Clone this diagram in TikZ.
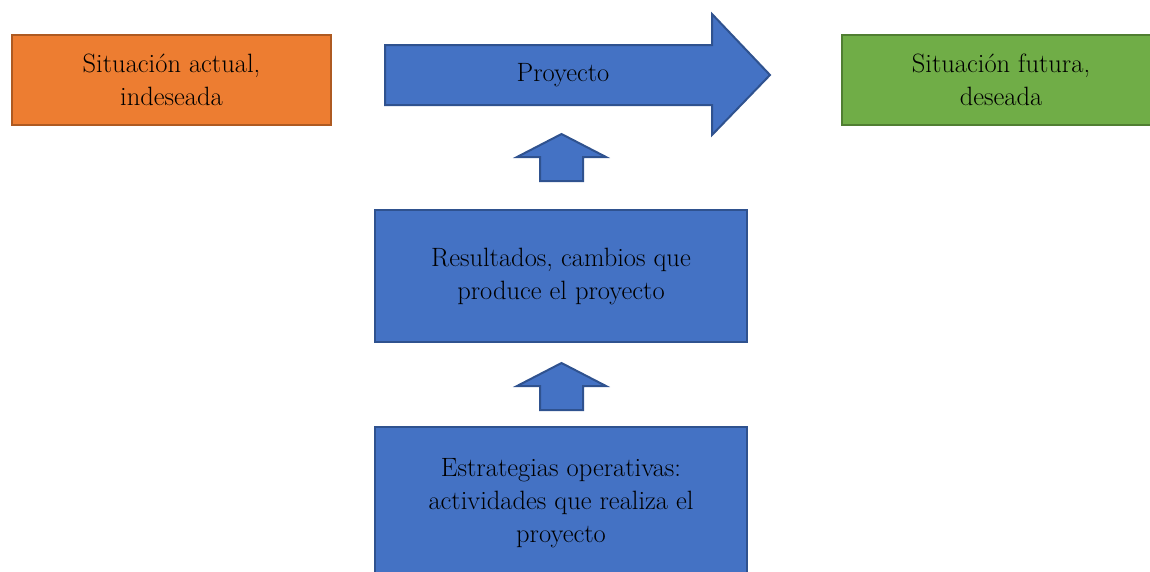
\documentclass[tikz,border=0pt]{standalone}
\usepackage{fontspec}
\definecolor{naranja}{HTML}{ED7D31}
\definecolor{naranjaborde}{HTML}{AE5A21}
\definecolor{azul}{HTML}{4472C4}
\definecolor{azulborde}{HTML}{2F528F}
\definecolor{verde}{HTML}{70AD47}
\definecolor{verdeborde}{HTML}{507E32}
\tikzset{caja/.style={rectangle,line width=2pt,align=center,inner sep=0pt,
  font=\fontsize{26.5}{33}\selectfont},
  flecha/.style={fill=azul,draw=azulborde,line width=2pt,line join=miter}}
\begin{document}
\begin{tikzpicture}[x=1pt,y=-1pt]
\useasboundingbox (0,0) rectangle (1150,571);
\clip (0,0) rectangle (1150,571);
\node[caja,fill=naranja,draw=naranjaborde,minimum width=319pt,minimum height=90pt] (actual) at (171.5,80) {Situación actual,\\indeseada};
\node[caja,fill=verde,draw=verdeborde,minimum width=318pt,minimum height=90pt] (futura) at (1001,80) {Situación futura,\\deseada};
\draw[flecha] (385,45) -- (712,45) -- (712,14) -- (770,75) -- (712,135) -- (712,105) -- (385,105) -- cycle;
\node[caja] (proyecto) at (563,75) {Proyecto};
\node[caja,fill=azul,draw=azulborde,minimum width=372pt,minimum height=132pt] (resultados) at (561,276) {Resultados, cambios que\\produce el proyecto};
\node[caja,fill=azul,draw=azulborde,minimum width=372pt,minimum height=152pt] (estrategias) at (561,503) {Estrategias operativas:\\actividades que realiza el\\proyecto};
\foreach \ty in {134,363}{ \draw[flecha] (540,\ty+47) -- (540,\ty+23) -- (517,\ty+23) -- (561.5,\ty) -- (606,\ty+23) -- (583,\ty+23) -- (583,\ty+47) -- cycle; }
\end{tikzpicture}
\end{document}
